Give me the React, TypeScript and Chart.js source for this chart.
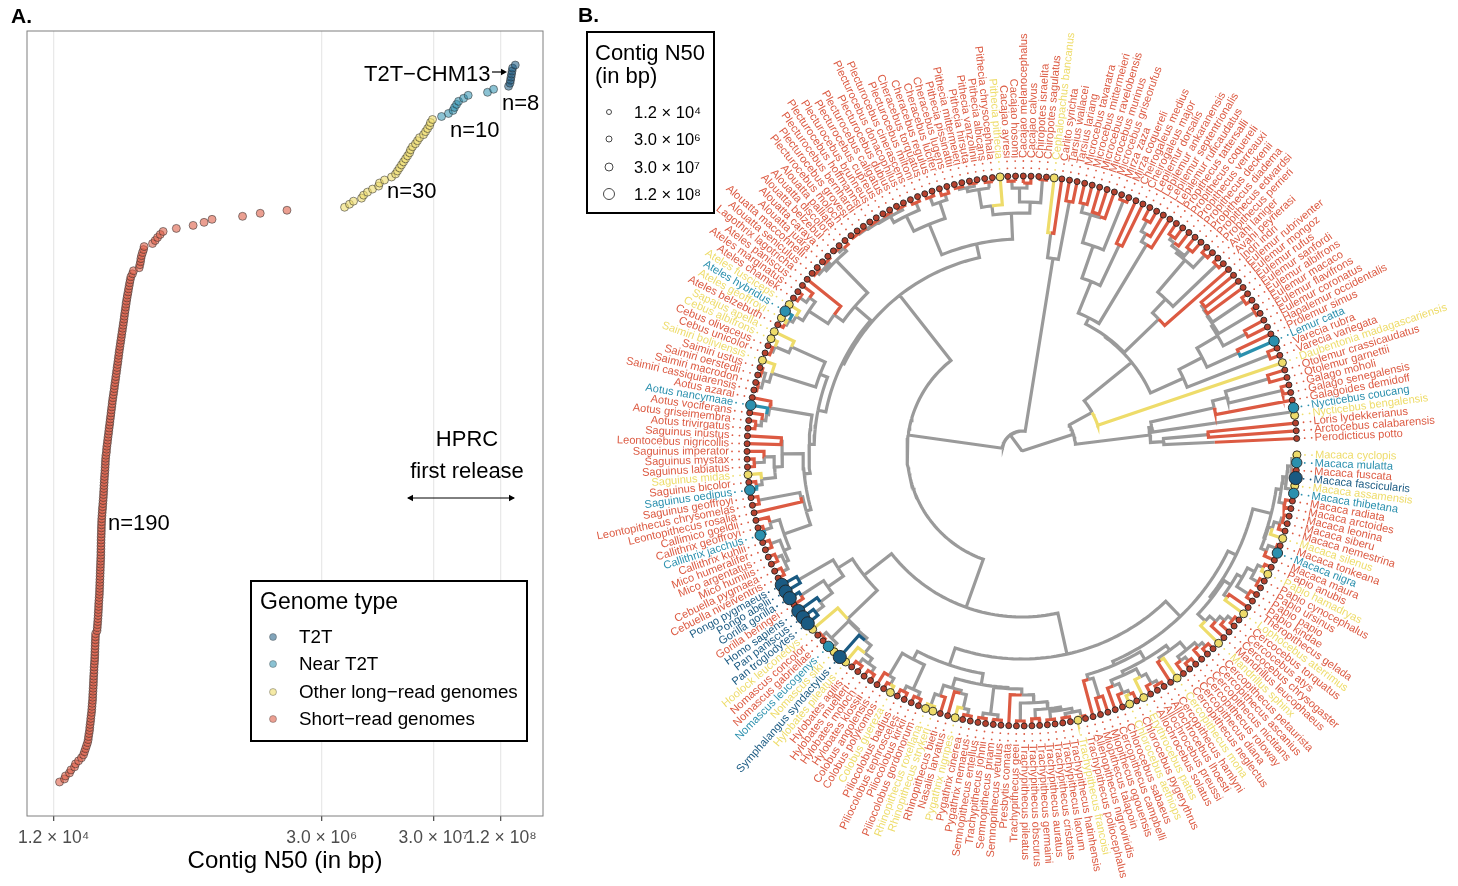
import React, { useEffect, useRef } from "react";
import { Chart, registerables } from "chart.js";

Chart.register(...registerables);

const FONT = '"Liberation Sans", Arial, sans-serif';
const RED = "#dc5a42";
const YELLOW = "#eedc6a";
const TEAL = "#2b90ae";
const DARK = "#1a5a82";
const GREY = "#9a9a9a";

// ---------- Panel A: log10 contig N50, in rank order ----------
const shortReadLogN50 = [
  4.133,4.177,4.186,4.222,4.235,4.267,4.276,4.303,4.329,4.347,
  4.356,4.365,4.374,4.383,4.389,4.392,4.396,4.401,4.403,4.406,
  4.410,4.412,4.415,4.419,4.421,4.423,4.425,4.428,4.429,4.430,
  4.432,4.433,4.435,4.436,4.437,4.438,4.440,4.441,4.442,4.444,
  4.446,4.447,4.448,4.449,4.450,4.451,4.452,4.453,4.454,4.455,
  4.468,4.470,4.472,4.474,4.476,4.478,4.479,4.481,4.482,4.483,
  4.485,4.487,4.489,4.490,4.491,4.492,4.493,4.494,4.495,4.496,
  4.497,4.498,4.499,4.500,4.501,4.502,4.502,4.503,4.503,4.504,
  4.504,4.505,4.506,4.507,4.507,4.508,4.509,4.510,4.512,4.514,
  4.516,4.518,4.520,4.522,4.524,4.526,4.527,4.529,4.530,4.532,
  4.533,4.535,4.537,4.539,4.540,4.542,4.543,4.545,4.547,4.552,
  4.553,4.556,4.560,4.563,4.566,4.570,4.573,4.576,4.580,4.583,
  4.586,4.590,4.593,4.596,4.600,4.603,4.606,4.610,4.614,4.618,
  4.622,4.625,4.629,4.633,4.636,4.640,4.644,4.647,4.651,4.655,
  4.658,4.662,4.665,4.669,4.673,4.677,4.681,4.685,4.689,4.693,
  4.697,4.701,4.705,4.709,4.712,4.716,4.720,4.724,4.728,4.732,
  4.736,4.741,4.746,4.750,4.755,4.760,4.765,4.771,4.785,4.794,
  4.845,4.851,4.857,4.860,4.866,4.875,4.884,4.889,4.964,4.988,
  5.009,5.033,5.059,5.177,5.327,5.425,5.496,5.769,5.927,6.166,
];
const otherLongLogN50 = [
  6.681,6.725,6.761,6.833,6.851,6.886,6.931,6.985,6.993,7.038,
  7.101,7.137,7.154,7.172,7.190,7.208,7.226,7.244,7.262,7.271,
  7.288,7.315,7.333,7.351,7.387,7.405,7.423,7.441,7.449,7.467,
];
const nearT2TLogN50 = [7.548,7.610,7.651,7.664,7.682,7.700,7.745,7.786,7.959,8.013];
const t2tLogN50 = [8.147,8.160,8.165,8.169,8.174,8.178,8.183,8.207];

const xTickValues = [1.2e4, 3e6, 3e7, 1.2e8];
const xTickLabels = ["1.2 × 10⁴", "3.0 × 10⁶", "3.0 × 10⁷", "1.2 × 10⁸"];
const genomeTypes = ["T2T", "Near T2T", "Other long−read genomes", "Short−read genomes"];
const genomeFills = ["rgba(26,90,130,.55)", "rgba(43,144,174,.55)", "rgba(238,220,106,.6)", "rgba(220,90,66,.58)"];
const sizeLegendLabels = ["1.2 × 10⁴", "3.0 × 10⁶", "3.0 × 10⁷", "1.2 × 10⁸"];
const sizeLegendRadii = [2.5, 3, 4, 5.5];

// ---------- Panel B: tips, counter-clockwise from the right ----------
const tipNames = [
  "Perodicticus potto","Arctocebus calabarensis","Loris lydekkerianus","Nycticebus bengalensis","Nycticebus coucang",
  "Galagoides demidoff","Galago senegalensis","Galago moholi","Otolemur garnettii","Otolemur crassicaudatus",
  "Daubentonia madagascariensis","Varecia variegata","Varecia rubra","Lemur catta","Prolemur simus","Hapalemur occidentalis",
  "Eulemur coronatus","Eulemur flavifrons","Eulemur macaco","Eulemur albifrons","Eulemur sanfordi","Eulemur rufus","Eulemur mongoz","Eulemur rubriventer",
  "Indri indri","Avahi peyrierasi","Avahi laniger","Propithecus perrieri","Propithecus edwardsi","Propithecus diadema","Propithecus deckenii","Propithecus verreauxi","Propithecus coquereli","Propithecus tattersalli",
  "Lepilemur ruficaudatus","Lepilemur septentrionalis","Lepilemur ankaranensis","Lepilemur dorsalis","Cheirogaleus major","Cheirogaleus medius","Mirza coquereli","Mirza zaza",
  "Microcebus griseorufus","Microcebus murinus","Microcebus ravelobensis","Microcebus mittermeieri","Microcebus tavaratra",
  "Tarsius lariang","Tarsius wallacei","Carlito syrichta","Cephalopachus bancanus",
  "Chiropotes sagulatus","Chiropotes israelita","Cacajao calvus","Cacajao melanocephalus","Cacajao hosomi","Cacajao ayresi",
  "Pithecia pithecia","Pithecia chrysocephala","Pithecia albicans","Pithecia vanzolinii","Pithecia hirsuta","Pithecia mittermeieri","Pithecia pissinattii",
  "Cheracebus lugens","Cheracebus lucifer","Cheracebus regulus","Cheracebus torquatus",
  "Plecturocebus miltoni","Plecturocebus cinerascens","Plecturocebus donacophilus","Plecturocebus dubius","Plecturocebus caligatus","Plecturocebus cupreus","Plecturocebus brunneus","Plecturocebus hoffmannsi","Plecturocebus bernhardi","Plecturocebus grovesi","Plecturocebus moloch",
  "Alouatta palliata","Alouatta discolor","Alouatta belzebul","Alouatta caraya","Alouatta juara","Alouatta macconnelli","Alouatta seniculus","Lagothrix lagotricha",
  "Ateles paniscus","Ateles marginatus","Ateles chamek","Ateles fusciceps","Ateles hybridus","Ateles geoffroyi","Ateles belzebuth",
  "Sapajus apella","Cebus albifrons","Cebus olivaceus","Cebus unicolor","Saimiri boliviensis","Saimiri ustus","Saimiri oerstedii","Saimiri macrodon","Saimiri cassiquiarensis",
  "Aotus azarai","Aotus nancymaae","Aotus vociferans","Aotus griseimembra","Aotus trivirgatus",
  "Saguinus inustus","Leontocebus nigricollis","Saguinus imperator","Saguinus mystax","Saguinus labiatus","Saguinus midas","Saguinus bicolor","Saguinus oedipus","Saguinus geoffroyi",
  "Leontopithecus chrysomelas","Leontopithecus rosalia","Callimico goeldii","Callithrix geoffroyi","Callithrix jacchus","Callithrix kuhlii",
  "Mico humeralifer","Mico argentatus","Mico humilis","Cebuella pygmaea","Cebuella niveiventris",
  "Pongo pygmaeus","Pongo abelii","Gorilla gorilla","Gorilla beringei","Homo sapiens","Pan paniscus","Pan troglodytes",
  "Hoolock leuconedys","Nomascus concolor","Nomascus gabriellae","Nomascus leucogenys","Nomascus siki","Symphalangus syndactylus",
  "Hylobates pileatus","Hylobates agilis","Hylobates muelleri","Hylobates moloch","Hylobates klossii",
  "Colobus angolensis","Colobus polykomos","Colobus guereza","Piliocolobus badius","Piliocolobus tephrosceles","Piliocolobus kirkii","Piliocolobus gordonorum",
  "Rhinopithecus roxellana","Rhinopithecus strykeri","Rhinopithecus bieti","Nasalis larvatus","Pygathrix nigripes","Pygathrix cinerea","Pygathrix nemaeus",
  "Semnopithecus entellus","Trachypithecus johnii","Semnopithecus priam","Semnopithecus vetulus","Presbytis comata",
  "Trachypithecus geei","Trachypithecus pileatus","Trachypithecus obscurus","Trachypithecus germaini","Trachypithecus auratus","Trachypithecus cristatus","Trachypithecus laotum","Trachypithecus hatinhensis","Trachypithecus francoisi","Trachypithecus poliocephalus",
  "Allenopithecus nigroviridis","Miopithecus talapoin","Miopithecus ogouensis","Cercopithecus campbelli","Chlorocebus sabaeus","Chlorocebus aethiops","Chlorocebus pygerythrus","Erythrocebus patas",
  "Allochrocebus solatus","Allochrocebus preussi","Allochrocebus lhoesti","Cercopithecus hamlyni","Cercopithecus mona","Cercopithecus neglectus","Cercopithecus diana","Cercopithecus roloway","Cercopithecus nictitans","Cercopithecus ascanius","Cercopithecus petaurista",
  "Mandrillus sphinx","Mandrillus leucophaeus","Cercocebus chrysogaster","Cercocebus atys","Cercocebus torquatus","Lophocebus aterrimus","Theropithecus gelada",
  "Papio kindae","Papio papio","Papio ursinus","Papio cynocephalus","Papio hamadryas","Papio anubis",
  "Macaca maura","Macaca nigra","Macaca tonkeana","Macaca silenus","Macaca nemestrina","Macaca siberu","Macaca leonina","Macaca arctoides","Macaca radiata","Macaca thibetana","Macaca assamensis","Macaca fascicularis","Macaca fuscata","Macaca mulatta","Macaca cyclopis",
];
const longReadTips = [
  "Nycticebus bengalensis","Daubentonia madagascariensis","Cephalopachus bancanus","Pithecia pithecia","Ateles fusciceps","Ateles geoffroyi",
  "Sapajus apella","Cebus albifrons","Saimiri boliviensis","Saguinus midas","Hoolock leuconedys","Nomascus siki","Hylobates pileatus","Colobus guereza",
  "Rhinopithecus roxellana","Rhinopithecus strykeri","Pygathrix nigripes","Trachypithecus francoisi","Chlorocebus aethiops","Erythrocebus patas",
  "Cercopithecus mona","Mandrillus sphinx","Lophocebus aterrimus","Papio hamadryas","Macaca silenus","Macaca assamensis","Macaca cyclopis",
];
const nearT2TTips = ["Nycticebus coucang","Lemur catta","Ateles hybridus","Aotus nancymaae","Saguinus oedipus","Callithrix jacchus","Nomascus leucogenys","Macaca nigra","Macaca thibetana","Macaca mulatta"];
const t2tTips = ["Pongo pygmaeus","Pongo abelii","Gorilla gorilla","Homo sapiens","Pan paniscus","Pan troglodytes","Symphalangus syndactylus","Macaca fascicularis"];

// Tree: * = next tip, (children)radius, optional @angle when the stem is not mid-arc
const lorisClade = "(((*)193(**)187)142((**)272(*((**)267(**)257)212)197)132)129";
const eulemurClade = "((**)271((**)268(*(**)233)231)230)229";
const lemurClade = `((**)265((**)238((**)253${eulemurClade})227)203)177`;
const propithecusClade = "((**)268((**)262(*(**)262)258)254)251";
const indriClade = `(*((**)269${propithecusClade})209)190`;
const cheirClade = "((*(*(**)262)250)241((**)228((**)270((*(**)249)247(**)255)246)217)183)149";
const lemuriClade = `(*(${lemurClade}(${indriClade}${cheirClade})142)141)80`;
const strepClade = `(${lorisClade}${lemuriClade})54`;
const tarsierClade = "((**)254(**)220)195";
const cacajaoClade = "((**)272((**)268(**)270)263)249";
const pitheciaClade = "(*((**)271((**)272(**)271)269)265)247";
const plecturoClade = "((**)270((**)272((**)272((**)272(***)272)271)270)269)262";
const pitheciidClade = `((${cacajaoClade}${pitheciaClade})238(((**)268(**)270)262${plecturoClade})245)212`;
const alouattaClade = "((*(**)273)270((**)272(**)272)269)266";
const atelesClade = "((*(**)270)262(*(*(**)269)267)263)255";
const atelidClade = `(${alouattaClade}(*${atelesClade})232)221`;
const cebinaeClade = "((*(*(**)270)268)253(*((**)272(**)272)268)262)216";
const aotusClade = "(*(*(*(**)268)262)258)256";
const saguinusClade = "((**)241((*(**)268)258(*(**)268)262)248)240";
const callitrichClade = "(((**)268*)226((*(**)270)262((**)268((**)268(**)268)262)258)252)224";
const cebidClade = `(${cebinaeClade}(${aotusClade}(${saguinusClade}${callitrichClade})219@186)213)208`;
const platyClade = `(${pitheciidClade}(${atelidClade}${cebidClade})200)198`;
const hominidClade = "((**)258((**)264(*(**)262)252)237)218";
const hylobatidClade = "(*(((**)272(**)272)267(*(*((**)268(**)268)262)256)246)243)242";
const colobusClade = "((*(**)268)261((**)268(**)268)262)235";
const rhinoClade = "(((**)270*)258(*(*(**)270)264)250)247";
const semnoClade = "((**)270(**)270)265";
const trachyClade = "((**)270((**)268((**)270((**)270(**)272)266)262)259)252";
const colobinaeClade = `(${colobusClade}(${rhinoClade}(${semnoClade}(*${trachyClade})244)238)237)226`;
const guenonClade = "((*(**)258)238(((*(*(**)266)262)252(*(*(**)270)266)255)246((**)251((*(**)268)263(*(**)268)263)258)248)242)233";
const papioClade = "((*(*(*(**)270)264)258)250((**)252((**)268((**)270(**)268)262)254)248)240";
const macacaClade = "(((*(**)272)264(*(*(**)270)268)262)258((**)268((**)272((**)272(**)272)270)266)262)257";
const catarrhineClade = `((${hominidClade}${hylobatidClade})201(${colobinaeClade}(${guenonClade}(${papioClade}${macacaClade})238)229)208)166`;
const primateTree = `(${strepClade}(${tarsierClade}(${platyClade}${catarrhineClade})115@172)20)0`;

const TIP_RADIUS = 275;
const FIRST_TIP_DEG = 2.6;
const LAST_TIP_DEG = 359.2;
const leaderRadii = [283, 290];
const LABEL_RADIUS = 293;
const CX = 1022;
const CY = 451;
const B_LEFT = 560;

type TreeNode = { tip?: number; r: number; at?: number; kids: TreeNode[]; angle: number };

function parseTree(src: string): TreeNode {
  let i = 0, t = 0;
  const num = () => {
    const s = i;
    while (i < src.length && /[0-9.]/.test(src[i])) i++;
    return parseFloat(src.slice(s, i));
  };
  const read = (): TreeNode => {
    if (src[i] === "*") {
      i++;
      return { tip: t++, r: TIP_RADIUS, kids: [], angle: 0 };
    }
    i++;
    const kids: TreeNode[] = [];
    while (src[i] !== ")") kids.push(read());
    i++;
    const r = num();
    let at: number | undefined;
    if (src[i] === "@") { i++; at = num(); }
    return { r, at, kids, angle: 0 };
  };
  return read();
}

function typeOf(name: string) {
  if (t2tTips.includes(name)) return 0;
  if (nearT2TTips.includes(name)) return 1;
  if (longReadTips.includes(name)) return 2;
  return 3;
}
const typeColours = [DARK, TEAL, YELLOW, RED];
const dotRadii = [6.6, 5.2, 4, 3];

function polar(r: number, deg: number) {
  const a = (deg * Math.PI) / 180;
  return { x: r * Math.cos(a), y: r * Math.sin(a) };
}

function buildTree() {
  const root = parseTree(primateTree);
  const step = (LAST_TIP_DEG - FIRST_TIP_DEG) / (tipNames.length - 1);
  const place = (n: TreeNode) => {
    if (n.tip !== undefined) { n.angle = FIRST_TIP_DEG + n.tip * step; return; }
    n.kids.forEach(place);
    n.angle = n.at ?? (n.kids[0].angle + n.kids[n.kids.length - 1].angle) / 2;
  };
  place(root);
  const lines: { x: number; y: number }[][] = [[], [], [], [], []];
  const gap = { x: NaN, y: NaN };
  const walk = (n: TreeNode) => {
    n.kids.forEach((k) => {
      const bucket = k.tip !== undefined ? typeOf(tipNames[k.tip] ?? "") : 4;
      const delta = k.angle - n.angle;
      const steps = Math.max(1, Math.ceil(Math.abs(delta) / 1.5));
      const path = lines[bucket];
      for (let s = 0; s <= steps; s++) path.push(polar(n.r, n.angle + (delta * s) / steps));
      path.push(polar(k.r, k.angle));
      path.push(gap);
      walk(k);
    });
  };
  walk(root);
  const tips = tipNames.map((name, i) => ({ name, type: typeOf(name), angle: FIRST_TIP_DEG + i * step }));
  return { lines, tips };
}

function text(ctx: any, s: string, x: number, y: number, font: string, color = "#000", align = "left") {
  ctx.font = font;
  ctx.fillStyle = color;
  ctx.textAlign = align;
  ctx.textBaseline = "middle";
  ctx.fillText(s, x, y);
}

function arrowHead(ctx: any, x: number, y: number, dir: number, size: number) {
  ctx.beginPath();
  ctx.moveTo(x, y);
  ctx.lineTo(x - dir * size, y - size * 0.55);
  ctx.lineTo(x - dir * size, y + size * 0.55);
  ctx.closePath();
  ctx.fill();
}

const panelAPlugin = {
  id: "panelA",
  afterDraw(chart: any) {
    const { ctx, chartArea: a } = chart;
    ctx.save();
    ctx.strokeStyle = "#7f7f7f";
    ctx.lineWidth = 1;
    ctx.strokeRect(a.left, a.top, a.right - a.left, a.bottom - a.top);
    const f22 = `22px ${FONT}`;
    text(ctx, "A.", 11, 17, `bold 21px ${FONT}`);
    text(ctx, "T2T−CHM13", 364, 74.5, f22);
    ctx.strokeStyle = "#000"; ctx.fillStyle = "#000"; ctx.lineWidth = 1.2;
    ctx.beginPath(); ctx.moveTo(492, 72); ctx.lineTo(503, 72); ctx.stroke();
    arrowHead(ctx, 507, 72, 1, 6);
    text(ctx, "n=8", 502, 103.5, f22);
    text(ctx, "n=10", 450, 130.5, f22);
    text(ctx, "n=30", 387, 191.5, f22);
    text(ctx, "n=190", 108, 523.5, f22);
    text(ctx, "HPRC", 467, 439.5, f22, "#000", "center");
    text(ctx, "first release", 467, 471.5, f22, "#000", "center");
    ctx.strokeStyle = "#000"; ctx.fillStyle = "#000"; ctx.lineWidth = 1;
    ctx.beginPath(); ctx.moveTo(408, 498); ctx.lineTo(514, 498); ctx.stroke();
    arrowHead(ctx, 407, 498, -1, 6);
    arrowHead(ctx, 515, 498, 1, 6);
    ctx.fillStyle = "#fff";
    ctx.fillRect(251, 581, 276, 160);
    ctx.strokeStyle = "#000"; ctx.lineWidth = 2;
    ctx.strokeRect(251, 581, 276, 160);
    text(ctx, "Genome type", 260, 602.5, `23px ${FONT}`);
    [637, 664, 692, 719].forEach((y, i) => {
      ctx.beginPath();
      ctx.arc(273, y, 3.5, 0, Math.PI * 2);
      ctx.fillStyle = genomeFills[i];
      ctx.fill();
      ctx.strokeStyle = "rgba(50,50,50,.5)"; ctx.lineWidth = 0.7;
      ctx.stroke();
      text(ctx, genomeTypes[i], 299, y + 1, `18.8px ${FONT}`);
    });
    ctx.restore();
  },
};

const panelBPlugin = {
  id: "panelB",
  afterDraw(chart: any) {
    const { ctx, scales } = chart;
    const px = (v: number) => scales.x.getPixelForValue(v);
    const py = (v: number) => scales.y.getPixelForValue(v);
    const { tips } = chart.config.options.treeData;
    ctx.save();
    tips.forEach((t: any) => {
      const p = polar(LABEL_RADIUS, t.angle);
      ctx.save();
      ctx.translate(px(p.x), py(p.y));
      const right = Math.cos((t.angle * Math.PI) / 180) >= 0;
      ctx.rotate(((right ? -t.angle : 180 - t.angle) * Math.PI) / 180);
      text(ctx, t.name, 0, 0, `11.1px ${FONT}`, typeColours[t.type], right ? "left" : "right");
      ctx.restore();
    });
    const L = -B_LEFT;
    text(ctx, "B.", 578 + L, 16, `bold 21px ${FONT}`);
    ctx.fillStyle = "#fff";
    ctx.fillRect(587 + L, 32, 127, 181);
    ctx.strokeStyle = "#000"; ctx.lineWidth = 2;
    ctx.strokeRect(587 + L, 32, 127, 181);
    text(ctx, "Contig N50", 595 + L, 53.5, `22px ${FONT}`);
    text(ctx, "(in bp)", 595 + L, 77, `22px ${FONT}`);
    [112, 139, 167, 194].forEach((y, i) => {
      ctx.beginPath();
      ctx.arc(609 + L, y, sizeLegendRadii[i], 0, Math.PI * 2);
      ctx.strokeStyle = "#333"; ctx.lineWidth = 0.9;
      ctx.stroke();
      text(ctx, sizeLegendLabels[i], 634 + L, y + 1, `16.5px ${FONT}`);
    });
    ctx.restore();
  },
};

export default function App() {
  const aRef = useRef<HTMLCanvasElement>(null);
  const bRef = useRef<HTMLCanvasElement>(null);

  useEffect(() => {
    const seriesA = [t2tLogN50, nearT2TLogN50, otherLongLogN50, shortReadLogN50];
    const offsets = [shortReadLogN50.length + otherLongLogN50.length + nearT2TLogN50.length, shortReadLogN50.length + otherLongLogN50.length, shortReadLogN50.length, 0];
    const chartA = new Chart(aRef.current as any, {
      type: "scatter",
      plugins: [panelAPlugin],
      data: {
        datasets: seriesA.map((vals, k) => ({
          label: genomeTypes[k],
          data: vals.map((v, i) => ({ x: 10 ** v, y: offsets[k] + i + 1 })),
          backgroundColor: genomeFills[k],
          borderColor: "rgba(45,45,45,.6)",
          borderWidth: 0.9,
          pointRadius: 4,
        })),
      },
      options: {
        animation: false,
        responsive: false,
        layout: { padding: { left: 27, right: 17, top: 31, bottom: 0 }, autoPadding: false },
        plugins: { legend: { display: false }, tooltip: { enabled: false } },
        scales: {
          x: {
            type: "logarithmic",
            min: 6950,
            max: 2.85e8,
            afterBuildTicks: (axis: any) => { axis.ticks = xTickValues.map((value) => ({ value })); },
            afterFit: (axis: any) => { axis.height = 70; },
            grid: { color: "#e9e9e9", lineWidth: 1.3, tickColor: "#555", tickLength: 5 },
            border: { display: false },
            ticks: {
              autoSkip: false, maxRotation: 0, minRotation: 0, padding: 7,
              color: "#4d4d4d", font: { family: FONT, size: 17.5 },
              callback: (v: any) => xTickLabels[xTickValues.indexOf(Number(v))] ?? "",
            },
            title: { display: true, text: "Contig N50 (in bp)", color: "#000", font: { family: FONT, size: 24 }, padding: { top: 0, bottom: 10 } },
          },
          y: { display: false, min: -10.24, max: 249.26 },
        },
      } as any,
    });

    const { lines, tips } = buildTree();
    const lineSets = lines.map((data, k) => ({
      data,
      showLine: true,
      borderColor: k === 4 ? GREY : typeColours[k],
      borderWidth: 3.2,
      pointRadius: 0,
      borderCapStyle: "butt",
      borderJoinStyle: "miter",
      spanGaps: false,
      order: k === 4 ? 9 : 5,
    }));
    const leaderSets = typeColours.map((c, k) => ({
      data: tips.filter((t) => t.type === k).flatMap((t) => leaderRadii.map((r) => polar(r, t.angle))),
      backgroundColor: c,
      borderWidth: 0,
      pointRadius: 0.9,
      order: 4,
    }));
    const dotSets = typeColours.map((c, k) => ({
      data: tips.filter((t) => t.type === k).map((t) => polar(TIP_RADIUS, t.angle)),
      backgroundColor: k === 3 ? "#b5412e" : c,
      borderColor: "#222",
      borderWidth: 0.9,
      pointRadius: dotRadii[k],
      order: k,
    }));
    const chartB = new Chart(bRef.current as any, {
      type: "scatter",
      plugins: [panelBPlugin],
      data: { datasets: [...lineSets, ...leaderSets, ...dotSets] as any },
      options: {
        animation: false,
        responsive: false,
        treeData: { tips },
        layout: { padding: 0, autoPadding: false },
        plugins: { legend: { display: false }, tooltip: { enabled: false } },
        scales: {
          x: { type: "linear", display: false, min: B_LEFT - CX, max: 1458 - CX },
          y: { type: "linear", display: false, min: CY - 886, max: CY },
        },
      } as any,
    });
    return () => { chartA.destroy(); chartB.destroy(); };
  }, []);

  return (
    <div style={{ position: "absolute", left: 0, top: 0, width: 1458, height: 886, background: "#fff", overflow: "hidden" }}>
      <canvas ref={aRef} width={560} height={886} style={{ position: "absolute", left: 0, top: 0, width: 560, height: 886 }} />
      <canvas ref={bRef} width={898} height={886} style={{ position: "absolute", left: 560, top: 0, width: 898, height: 886 }} />
    </div>
  );
}
